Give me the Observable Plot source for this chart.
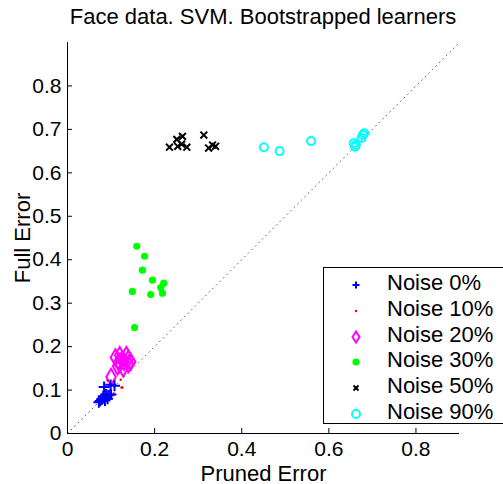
<!DOCTYPE html>
<html>
<head>
<meta charset="utf-8">
<script src="https://cdn.jsdelivr.net/npm/d3@7"></script>
<script src="https://cdn.jsdelivr.net/npm/@observablehq/plot@0.6"></script>
<style>
  html, body { margin: 0; padding: 0; background: #fff; overflow: hidden; }
  #wrap { position: relative; width: 503px; height: 484px; font-family: "Liberation Sans", Arial, sans-serif; }
  #title { position: absolute; left: 0px; width: 526px; top: 4px; text-align: center; font-size: 22px; color: #000; white-space: nowrap; }
  #chart { position: absolute; left: 0; top: 0; }
  #legend { position: absolute; left: 323px; top: 267px; width: 200px; height: 157px; border: 1.5px solid #000; background: #fff; box-sizing: border-box; }
  .row { position: absolute; left: 0; height: 26px; width: 200px; font-size: 22px; }
  .row svg { position: absolute; left: 22px; top: 4px; }
  .row span { position: absolute; left: 63px; top: -1px; white-space: nowrap; }
</style>
</head>
<body>
<div id="wrap">
  <div id="title">Face data. SVM. Bootstrapped learners</div>
  <div id="chart"></div>
  <div id="legend"></div>
</div>
<script>
// ---- data ----
const seriesNames = ["Noise 0%", "Noise 10%", "Noise 20%", "Noise 30%", "Noise 50%", "Noise 90%"];

const noise0x = [0.075, 0.080, 0.085, 0.090, 0.078, 0.088, 0.095, 0.082, 0.092, 0.100, 0.072, 0.086, 0.084, 0.099, 0.108];
const noise0y = [0.075, 0.080, 0.082, 0.085, 0.078, 0.090, 0.088, 0.086, 0.080, 0.090, 0.072, 0.076, 0.107, 0.112, 0.110];

const noise10x = [0.092, 0.097, 0.122, 0.124, 0.126, 0.090, 0.106];
const noise10y = [0.122, 0.111, 0.124, 0.106, 0.106, 0.099, 0.092];

const noise20x = [0.110, 0.120, 0.125, 0.130, 0.135, 0.140, 0.115, 0.128, 0.140, 0.120, 0.145, 0.118, 0.100];
const noise20y = [0.175, 0.160, 0.170, 0.165, 0.180, 0.160, 0.155, 0.150, 0.172, 0.180, 0.165, 0.165, 0.130];

const noise30x = [0.159, 0.177, 0.172, 0.195, 0.221, 0.214, 0.149, 0.191, 0.218, 0.154];
const noise30y = [0.431, 0.408, 0.376, 0.353, 0.346, 0.336, 0.327, 0.320, 0.323, 0.244];

const noise50x = [0.234, 0.251, 0.264, 0.253, 0.262, 0.274, 0.313, 0.324, 0.333, 0.340];
const noise50y = [0.659, 0.677, 0.684, 0.661, 0.666, 0.659, 0.687, 0.657, 0.664, 0.661];

const noise90x = [0.451, 0.487, 0.559, 0.678, 0.662, 0.657, 0.681, 0.660, 0.675];
const noise90y = [0.659, 0.650, 0.673, 0.687, 0.664, 0.668, 0.691, 0.660, 0.680];

const xTicks = [0, 0.2, 0.4, 0.6, 0.8];
const yTicks = [0, 0.1, 0.2, 0.3, 0.4, 0.5, 0.6, 0.7, 0.8];
const diagonal = [0, 0.9];

const colors = ["#0000ff", "#ff0000", "#ff00ff", "#00ff00", "#000000", "#00ffff"];

// ---- build tables ----
const pts = (xs, ys) => xs.map((x, i) => ({x, y: ys[i]}));
const d0 = pts(noise0x, noise0y), d10 = pts(noise10x, noise10y), d20 = pts(noise20x, noise20y),
      d30 = pts(noise30x, noise30y), d50 = pts(noise50x, noise50y), d90 = pts(noise90x, noise90y);

const chart = Plot.plot({
  width: 503,
  height: 484,
  marginLeft: 67,
  marginRight: 44,
  marginTop: 42,
  marginBottom: 51,
  style: {fontFamily: "Liberation Sans, Arial, sans-serif", fontSize: "21px", color: "#000", background: "transparent", overflow: "visible"},
  x: {domain: [0, 0.9]},
  y: {domain: [0, 0.9]},
  marks: [
    Plot.line(diagonal, {x: d => d, y: d => d, stroke: "#666", strokeWidth: 1, strokeDasharray: "1,4"}),
    Plot.ruleX(diagonal.slice(0, 1), {stroke: "#000", strokeWidth: 1}),
    Plot.ruleY(diagonal.slice(0, 1), {stroke: "#000", strokeWidth: 1}),
    Plot.ruleY(yTicks, {x1: 0, x2: 0.0115, stroke: "#000"}),
    Plot.ruleX(xTicks, {y1: 0, y2: 0.0115, stroke: "#000"}),
    Plot.axisX(xTicks, {tickSize: 0, tickPadding: 8, tickFormat: d => String(d), label: null}),
    Plot.axisY(yTicks, {tickSize: 0, tickPadding: 6, tickFormat: d => String(d), label: null}),
    Plot.text(["Pruned Error"], {frameAnchor: "bottom", textAnchor: "middle", lineAnchor: "middle", dy: 40, fontSize: 22, text: d => d}),
    Plot.text(["Full Error"], {frameAnchor: "left", textAnchor: "middle", lineAnchor: "middle", dx: -45, rotate: -90, fontSize: 22, text: d => d}),
    Plot.dot(d90, {x: "x", y: "y", symbol: "circle", r: 4, stroke: colors[5], strokeWidth: 2, fill: "none"}),
    Plot.dot(d50, {x: "x", y: "y", symbol: "times", r: 3.2, stroke: colors[4], strokeWidth: 2}),
    Plot.dot(d30, {x: "x", y: "y", symbol: "circle", r: 3.6, fill: colors[3], stroke: "none"}),
    Plot.dot(d20, {x: "x", y: "y", symbol: "diamond", r: 5, stroke: colors[2], strokeWidth: 2, fill: "none"}),
    Plot.dot(d10, {x: "x", y: "y", symbol: "circle", r: 1.2, fill: colors[1], stroke: "none"}),
    Plot.dot(d0, {x: "x", y: "y", symbol: "plus", r: 3.6, stroke: colors[0], strokeWidth: 2})
  ]
});
document.getElementById("chart").appendChild(chart);

// ---- legend ----
const legendSymbols = [
  `<line x1="10" y1="6.5" x2="10" y2="13.5" stroke="${colors[0]}" stroke-width="2"/><line x1="6.5" y1="10" x2="13.5" y2="10" stroke="${colors[0]}" stroke-width="2"/>`,
  `<circle cx="10" cy="10" r="1.2" fill="${colors[1]}"/>`,
  `<path d="M10,4.5 L13.5,10 L10,15.5 L6.5,10 Z" fill="none" stroke="${colors[2]}" stroke-width="2"/>`,
  `<circle cx="10" cy="10" r="3.6" fill="${colors[3]}"/>`,
  `<path d="M7.5,7.5 L12.5,12.5 M12.5,7.5 L7.5,12.5" stroke="${colors[4]}" stroke-width="2"/>`,
  `<circle cx="10" cy="10" r="4" fill="none" stroke="${colors[5]}" stroke-width="2"/>`
];
const legend = document.getElementById("legend");
seriesNames.forEach((name, i) => {
  const row = document.createElement("div");
  row.className = "row";
  row.style.top = (3 + i * 25.8) + "px";
  row.innerHTML = `<svg width="20" height="20">${legendSymbols[i]}</svg><span>${name}</span>`;
  legend.appendChild(row);
});
</script>
</body>
</html>
